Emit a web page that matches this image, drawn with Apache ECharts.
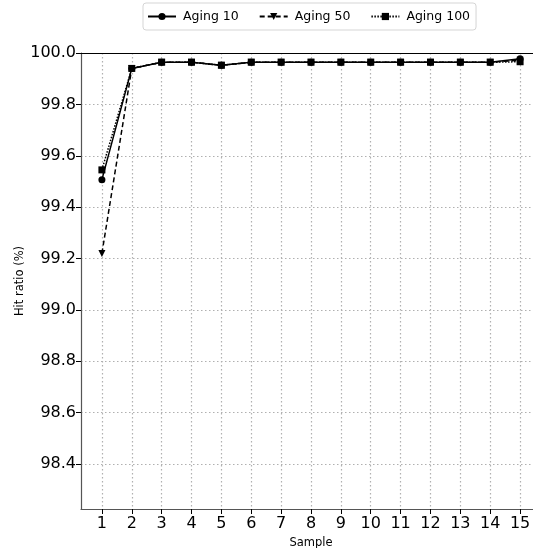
<!DOCTYPE html>
<html><head><meta charset="utf-8">
<script src="https://cdn.jsdelivr.net/npm/echarts@6/dist/echarts.min.js"></script>
<style>html,body{margin:0;padding:0;background:#fff}#c{width:533px;height:548px}</style>
</head><body><div id="c"></div>
<script>
const samples = [1,2,3,4,5,6,7,8,9,10,11,12,13,14,15];
const aging10 = [99.507,99.940,99.964,99.964,99.952,99.964,99.964,99.964,99.964,99.964,99.964,99.964,99.964,99.964,99.978];
const aging50 = [99.220,99.940,99.964,99.964,99.952,99.964,99.964,99.964,99.964,99.964,99.964,99.964,99.964,99.964,99.972];
const aging100 = [99.545,99.940,99.964,99.964,99.952,99.964,99.964,99.964,99.964,99.964,99.964,99.964,99.964,99.964,99.966];
const yTicks = [98.4,98.6,98.8,99.0,99.2,99.4,99.6,99.8,100.0];
const seriesNames = ['Aging 10','Aging 50','Aging 100'];
const yTitle = 'Hit ratio (%)';

const font = 'DejaVu Sans';
const chart = echarts.init(document.getElementById('c'), null, {renderer:'canvas'});
function pts(arr){ return samples.map((s,i)=>[s,arr[i]]); }
const gridLine = {show:true, lineStyle:{color:'#b0b0b0', type:[1.5,2.5], width:1.2}};
chart.setOption({
  animation:false,
  backgroundColor:'#fff',
  textStyle:{fontFamily:font},
  legend:{
    top:3, left:143,
    itemWidth:28, itemHeight:9, itemGap:20,
    padding:[7,6,7,4],
    borderColor:'#d5d5d5', borderWidth:1, borderRadius:3,
    textStyle:{fontFamily:font, fontSize:12.5, color:'#000', padding:[0,0,0,2]},
    data:seriesNames
  },
  graphic:[{
    type:'text', x:20, y:281, rotation:Math.PI/2,
    style:{text:yTitle, font:'11.5px "DejaVu Sans"', fill:'#000', align:'center', verticalAlign:'middle'}
  }],
  grid:{left:81, top:53, width:460, height:456, containLabel:false, outerBoundsMode:'none'},
  xAxis:[{
    type:'value', min:0.3, max:15.7,
    name:'Sample', nameLocation:'middle', nameGap:27,
    nameTextStyle:{fontFamily:font, fontSize:11.5, color:'#000'},
    axisLine:{show:true, onZero:false, lineStyle:{color:'#555', width:1.2}},
    axisTick:{show:true, customValues:samples, length:5, lineStyle:{color:'#000'}},
    axisLabel:{customValues:samples, fontFamily:font, fontSize:16, color:'#000', margin:7},
    splitLine:gridLine
  },{
    type:'value', min:0.3, max:15.7, position:'top',
    axisLine:{show:true, lineStyle:{color:'#000', width:1.2}},
    axisTick:{show:false}, axisLabel:{show:false}, splitLine:{show:false}
  }],
  yAxis:{
    type:'value', min:98.225, max:100.0,
    axisLine:{show:true, onZero:false, lineStyle:{color:'#555', width:1.2}},
    axisTick:{show:true, customValues:yTicks, length:5, lineStyle:{color:'#000'}},
    axisLabel:{customValues:yTicks, fontFamily:font, fontSize:16, color:'#000', margin:5,
      formatter:v=>v.toFixed(1)},
    splitLine:gridLine
  },
  series:[
    {name:seriesNames[0], type:'line', data:pts(aging10), symbol:'circle', symbolSize:7,
     lineStyle:{color:'#000', width:1.5, type:'solid'}, itemStyle:{color:'#000'}, z:3},
    {name:seriesNames[1], type:'line', data:pts(aging50), symbol:'triangle', symbolRotate:180, symbolSize:7,
     lineStyle:{color:'#000', width:1.5, type:[5,3]}, itemStyle:{color:'#000'}, z:4},
    {name:seriesNames[2], type:'line', data:pts(aging100), symbol:'rect', symbolSize:7,
     lineStyle:{color:'#000', width:1.5, type:[1.5,1.5]}, itemStyle:{color:'#000'}, z:5}
  ]
});
</script></body></html>
